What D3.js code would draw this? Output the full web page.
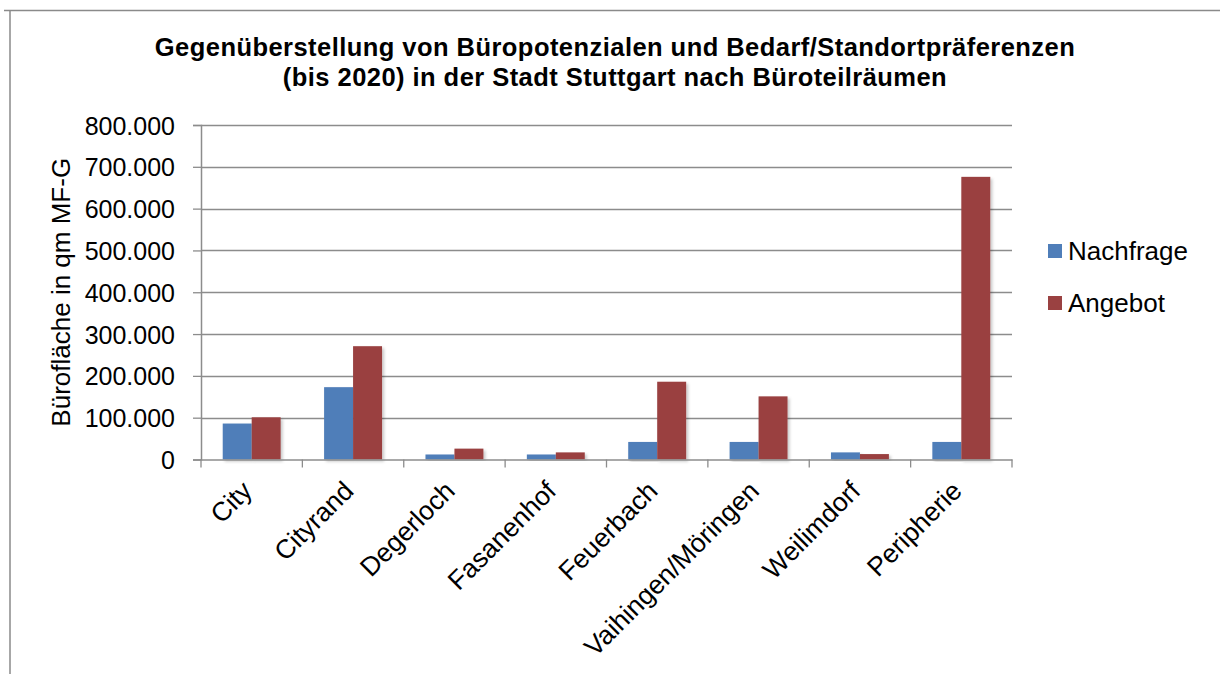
<!DOCTYPE html>
<html>
<head>
<meta charset="utf-8">
<script src="https://cdn.jsdelivr.net/npm/d3@7"></script>
<style>
  html, body { margin: 0; padding: 0; background: #fff; }
  svg { display: block; font-family: "Liberation Sans", Arial, sans-serif; }
</style>
</head>
<body>
<svg id="chart" width="1220" height="674"></svg>
<script>
// Büroteilräume and their office space figures (qm MF-G)
const categories = ["City", "Cityrand", "Degerloch", "Fasanenhof", "Feuerbach",
                    "Vaihingen/Möringen", "Weilimdorf", "Peripherie"];
const nachfrage = [86000, 173000, 12000, 12000, 42000, 42000, 17000, 42000];
const angebot   = [101000, 271000, 26000, 17000, 186000, 151000, 13000, 676000];
const seriesNames = ["Nachfrage", "Angebot"];
const seriesColors = ["#4F7EB9", "#9A4141"];
const yTicks = [0, 100000, 200000, 300000, 400000, 500000, 600000, 700000, 800000];

const svg = d3.select("#chart");

// shadow under bars
const defs = svg.append("defs");
const f = defs.append("filter").attr("id", "shadow")
  .attr("x", "-20%").attr("y", "-5%").attr("width", "150%").attr("height", "115%");
f.append("feDropShadow").attr("dx", 2).attr("dy", 2).attr("stdDeviation", 1.6)
  .attr("flood-color", "#000").attr("flood-opacity", 0.22);

// outer frame (top and left edges visible)
svg.append("line").attr("x1", 4).attr("x2", 1220).attr("y1", 10.5).attr("y2", 10.5)
  .attr("stroke", "#8a8a8a").attr("stroke-width", 1.5);
svg.append("line").attr("x1", 10).attr("x2", 10).attr("y1", 10).attr("y2", 674)
  .attr("stroke", "#8a8a8a").attr("stroke-width", 1.5);

// two-line title
const titleLines = [
  "Gegenüberstellung von Büropotenzialen und Bedarf/Standortpräferenzen",
  "(bis 2020) in der Stadt Stuttgart nach Büroteilräumen"
];
svg.append("g").selectAll("text").data(titleLines).join("text")
  .attr("x", 615).attr("y", (d, i) => 56 + i * 29.5)
  .attr("text-anchor", "middle").attr("font-weight", "bold")
  .attr("font-size", 25.5).attr("letter-spacing", 0.45).attr("fill", "#000")
  .text(d => d);

const plotLeft = 201, plotRight = 1012, plotTop = 125, plotBottom = 459.5;

const x0 = d3.scaleBand().domain(categories).range([plotLeft, plotRight]).paddingInner(0).paddingOuter(0);
const y = d3.scaleLinear().domain([0, 800000]).range([plotBottom, plotTop]);
const x1 = d3.scaleBand().domain(seriesNames)
  .range([0, x0.bandwidth()]).paddingOuter(0.75).paddingInner(0);

// horizontal gridlines
svg.append("g").selectAll("line").data(yTicks.filter(d => d > 0)).join("line")
  .attr("x1", plotLeft).attr("x2", plotRight)
  .attr("y1", d => Math.round(y(d)) + 0.5).attr("y2", d => Math.round(y(d)) + 0.5)
  .attr("stroke", "#8c8c8c").attr("stroke-width", 1.3);

// bars
const groups = svg.append("g").selectAll("g").data(categories).join("g")
  .attr("transform", d => `translate(${x0(d)},0)`);
groups.selectAll("rect")
  .data((d, i) => [nachfrage[i], angebot[i]].map((v, k) => ({ v, k })))
  .join("rect")
  .attr("x", d => x1(seriesNames[d.k]))
  .attr("width", x1.bandwidth())
  .attr("y", d => y(d.v))
  .attr("height", d => y(0) - y(d.v))
  .attr("fill", d => seriesColors[d.k])
  .attr("filter", "url(#shadow)");

// y axis
const yAxis = d3.axisLeft(y).tickValues(yTicks).tickSizeOuter(0).tickSize(8).tickPadding(18)
  .tickFormat(d => d === 0 ? "0" : d3.format(",")(d).replace(/,/g, "."));
const gy = svg.append("g").attr("transform", `translate(${plotLeft},0)`).call(yAxis);
gy.select(".domain").attr("stroke", "#8c8c8c").attr("stroke-width", 1.5);
gy.selectAll(".tick line").attr("stroke", "#8c8c8c").attr("stroke-width", 1.3);
gy.selectAll(".tick text").attr("font-size", 25).attr("fill", "#000")
  .attr("font-family", "Liberation Sans, Arial, sans-serif").attr("dy", "0.36em");

// x axis
const xAxis = d3.axisBottom(x0).tickSize(8).tickSizeOuter(0).tickFormat("");
const gx = svg.append("g").attr("transform", `translate(0,${plotBottom})`).call(xAxis);
gx.select(".domain").attr("stroke", "#8c8c8c").attr("stroke-width", 1.5);
// ticks at category boundaries
gx.selectAll(".tick").remove();
const bounds = categories.map(c => x0(c)).concat([plotRight]);
gx.selectAll("line.b").data(bounds).join("line").attr("class", "b")
  .attr("x1", d => d).attr("x2", d => d).attr("y1", 0).attr("y2", 8)
  .attr("stroke", "#8c8c8c").attr("stroke-width", 1.3);

// rotated category labels
svg.append("g").selectAll("text").data(categories).join("text")
  .attr("transform", d => `translate(${x0(d) + x0.bandwidth() / 2 + 2},${plotBottom + 33}) rotate(-45)`)
  .attr("text-anchor", "end").attr("font-size", 26.5).attr("fill", "#000")
  .text(d => d);

// y axis title
svg.append("text")
  .attr("transform", `translate(70,${(plotTop + plotBottom) / 2}) rotate(-90)`)
  .attr("text-anchor", "middle").attr("font-size", 26).attr("fill", "#000")
  .text("Bürofläche in qm MF-G");

// legend
const legend = svg.append("g").selectAll("g").data(seriesNames).join("g")
  .attr("transform", (d, i) => `translate(1048,${244 + i * 52})`);
legend.append("rect").attr("width", 14).attr("height", 14)
  .attr("fill", (d, i) => seriesColors[i]);
legend.append("text").attr("x", 20).attr("y", 16).attr("font-size", 26).attr("fill", "#000")
  .text(d => d);
</script>
</body>
</html>
